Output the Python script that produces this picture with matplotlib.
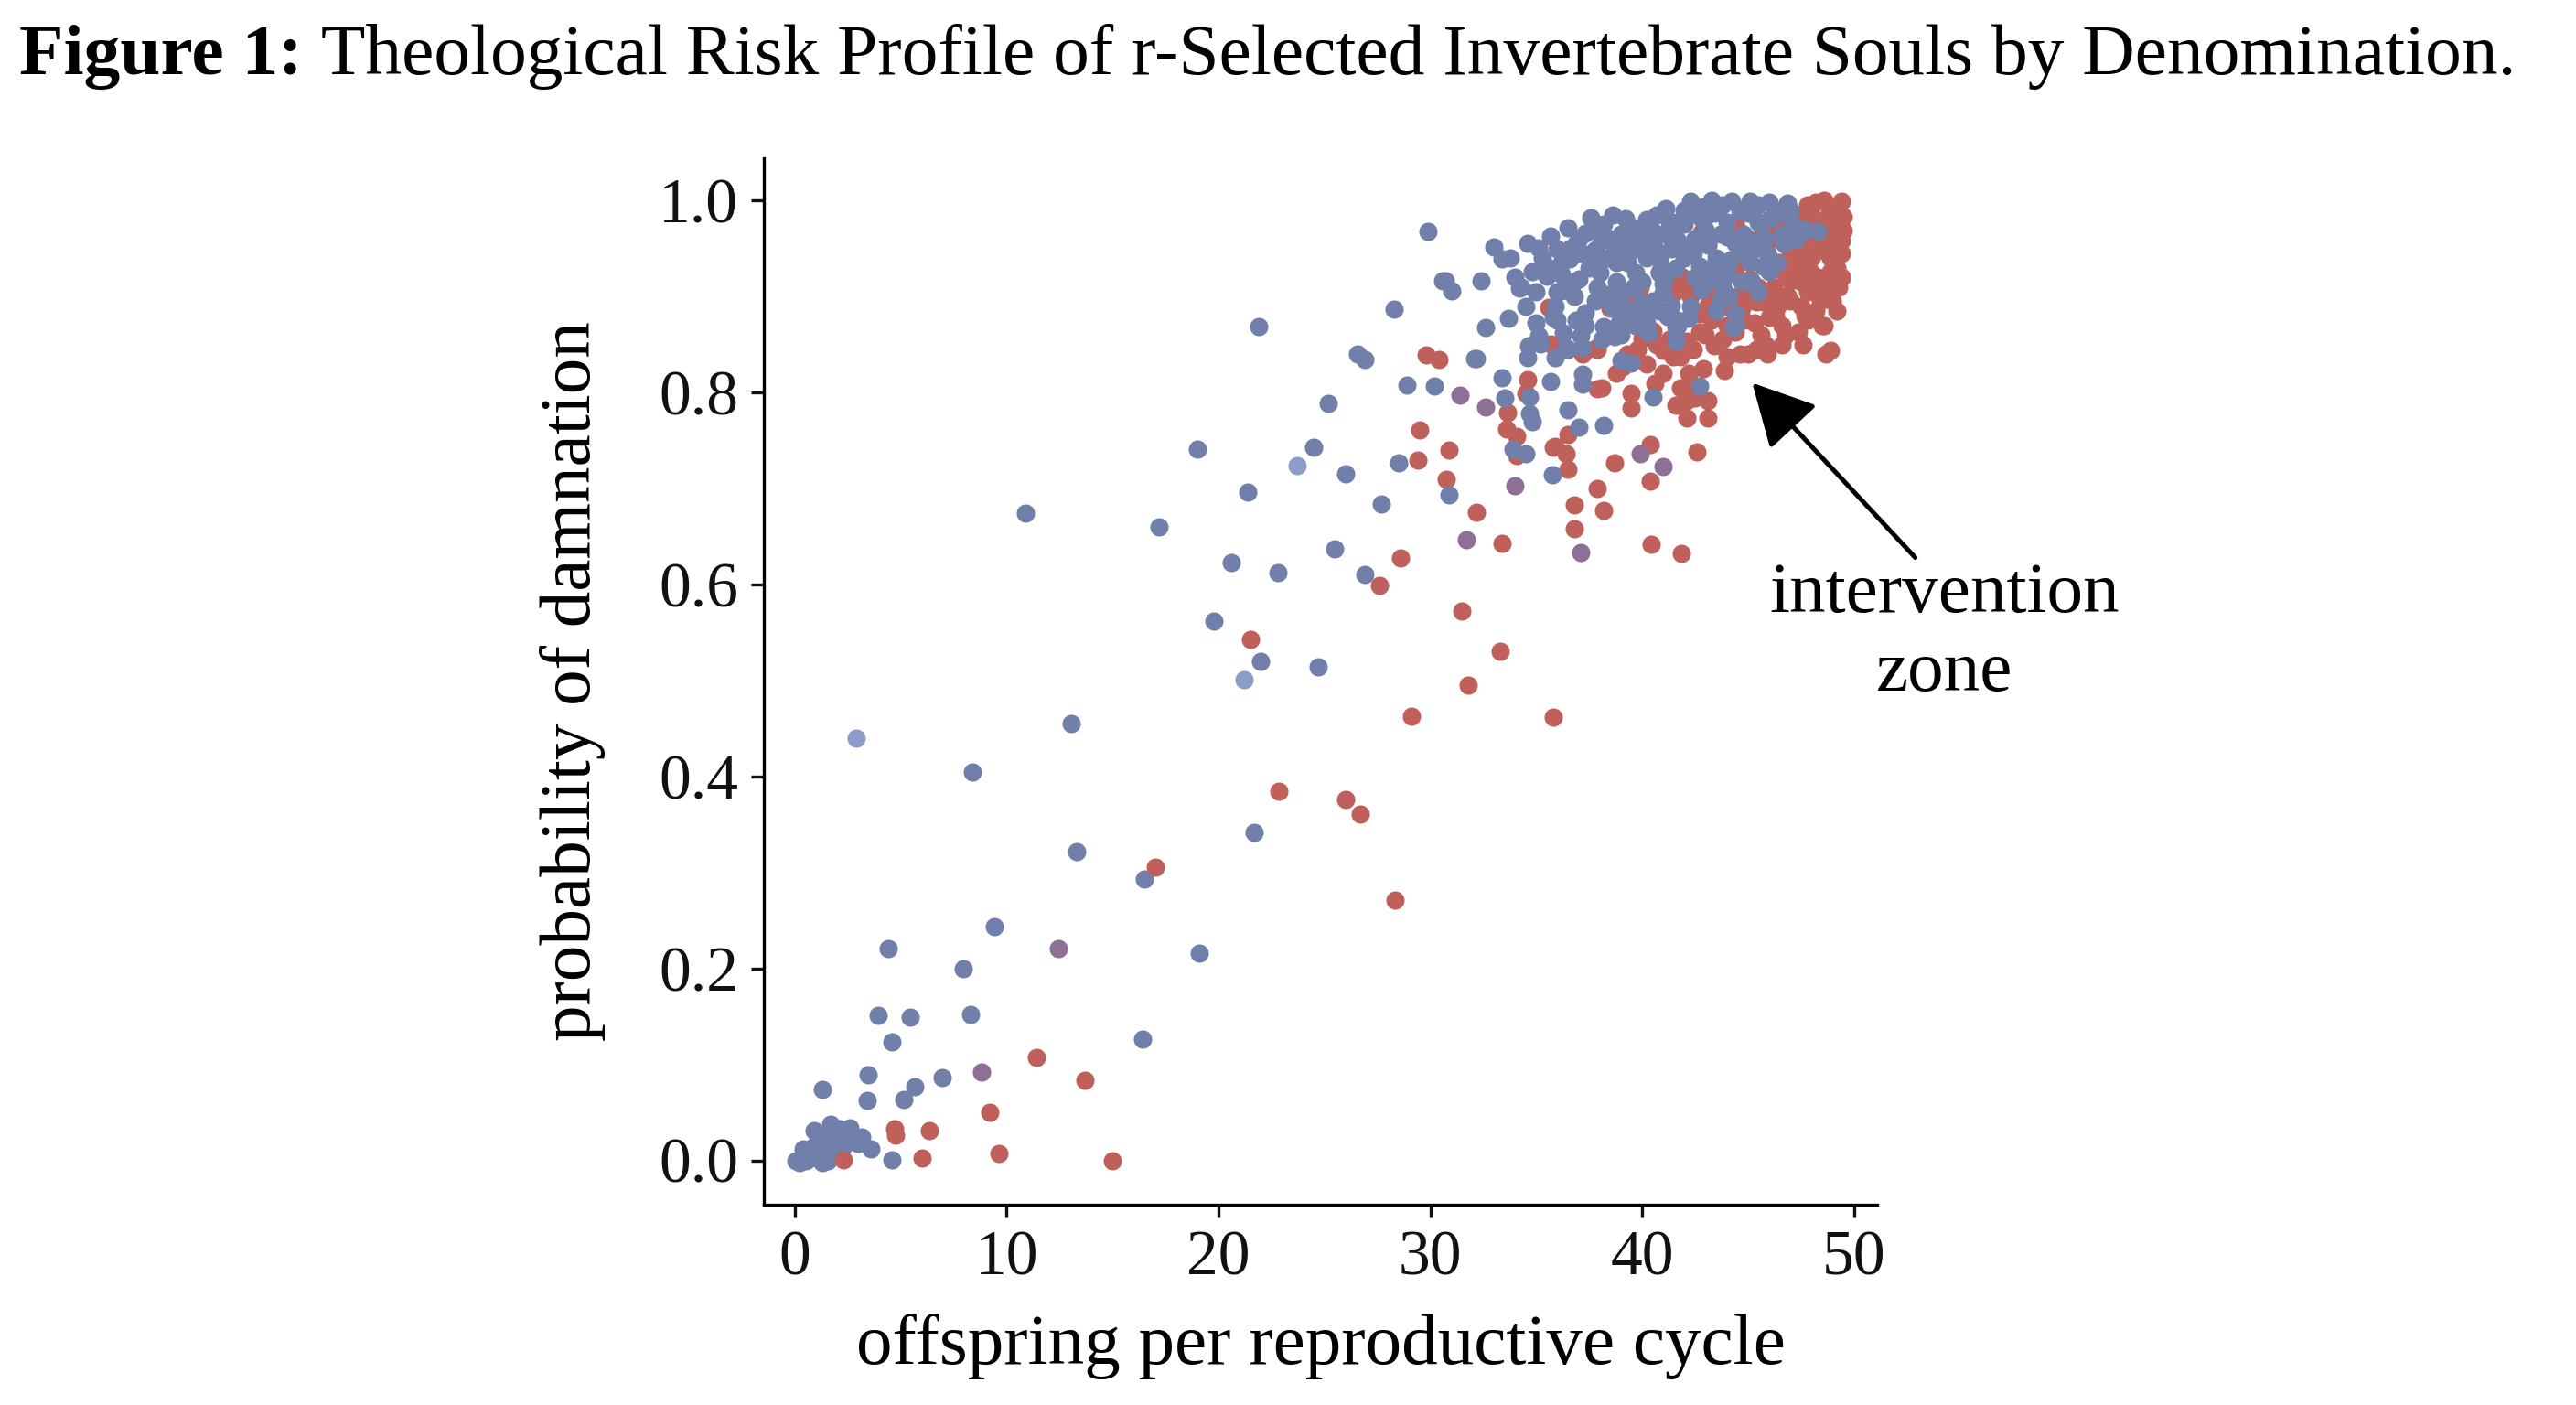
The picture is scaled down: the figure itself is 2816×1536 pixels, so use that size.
import matplotlib
matplotlib.use("Agg")
import matplotlib.pyplot as plt
import numpy as np

FONT = ["Liberation Serif", "DejaVu Serif"]
plt.rcParams["font.family"] = FONT

# ---------------- data ----------------
blue_x = [
    # lower-left cluster
    0.05, 0.2, 0.35, 0.5, 0.6, 0.75, 0.9, 0.9, 1.05, 1.2, 1.3, 1.45, 1.6, 1.7, 1.85, 2.0,
    2.15, 2.3, 2.5, 2.6, 2.8, 3.0, 3.15, 3.6, 1.1, 0.4, 1.55, 2.1,
    # sparse
    1.3, 3.45, 3.4, 5.67, 5.14, 6.95, 3.93, 5.45, 8.3, 4.6, 4.4, 7.95, 9.4, 8.4, 13.05,
    13.3, 16.4, 16.5, 19.1, 21.7, 4.6, 10.9, 17.2, 19.0, 21.4, 24.5, 26.0, 25.2, 20.6,
    22.8, 19.8, 25.5, 27.7, 26.9, 28.5, 30.9, 22.0, 24.7, 21.9, 28.3, 29.9, 30.7, 31.0,
    32.4, 33.0, 33.4, 34.2, 33.7, 32.6, 35.0, 34.65, 33.4, 32.1, 26.55, 26.9, 28.9, 30.2,
    33.5, 34.7, 34.7, 34.8, 33.9, 34.5, 35.75, 35.7, 30.6, 34.3,
    # dense cluster
    37.6, 37.3, 35.7, 35.1, 35.3, 34.8, 35.5, 36.2, 36.6, 37.2, 37.8, 36.2, 36.8, 37.3,
    36.3, 37.1, 36.5, 35.2, 36.6, 36.2, 37.0, 38.2, 38.9, 38.4, 39.9, 40.1, 40.2, 40.3,
    41.4, 41.7, 41.0, 42.8, 43.7, 44.4, 44.3, 45.7, 46.0, 44.9, 45.1, 44.0, 42.7, 42.0,
    41.4, 41.7, 40.6, 40.2, 39.5, 39.7, 40.2, 40.5, 41.7, 43.4, 44.0, 45.0, 45.5, 46.0,
    46.5, 47.1, 47.7, 48.3, 44.0, 44.4, 42.5, 43.1, 38.8, 39.3, 39.7, 38.0, 37.6, 41.0,
    41.2, 41.7, 44.1, 43.8, 39.2, 41.1, 42.3, 43.3, 44.25, 45.1, 46.0, 46.85, 38.5, 38.1,
    38.7, 39.0, 40.0, 41.0, 42.0, 43.0, 42.6, 44.8, 45.8, 46.6, 45.3, 43.5, 42.4, 41.6,
    40.8, 39.6, 38.8, 37.9, 40.5, 42.3, 43.2, 44.7, 45.5, 41.6, 41.6, 42.7, 40.5, 38.2,
    37.0, 36.5, 37.2, 37.2, 39.0, 39.5, 38.1, 39.0, 36.4, 37.2, 35.9, 35.1, 34.6, 37.3,
    38.3, 38.95, 40.3, 41.6, 44.4, 36.0, 35.9, 36.9, 47.5, 32.2,
    38.2, 38.6, 39.6, 40.7, 41.3, 42.0, 42.9, 43.8, 44.6, 45.5, 46.3, 47.0, 43.7, 42.9,
    41.4, 40.4, 39.1, 38.3, 37.5, 37.0, 36.5, 36.0, 35.6, 36.8, 37.8, 38.6, 39.3, 39.0,
    40.0, 40.8, 41.9, 43.3, 44.2, 45.9, 46.7, 47.3, 45.0, 42.5, 43.9, 41.2, 39.4, 38.0,
    35.0, 35.8, 36.0, 34.5, 34.0, 33.8, 34.6, 36.9, 38.7, 39.7, 40.8, 42.2, 43.5, 45.2,
    46.4,
]
blue_y = [
    0.0, -0.002, 0.004, 0.0, 0.01, 0.003, 0.015, 0.031, 0.005, 0.02, -0.002, 0.01, 0.028,
    0.038, 0.018, 0.008, 0.025, 0.015, 0.02, 0.034, 0.022, 0.018, 0.024, 0.012, 0.026,
    0.012, 0.0, 0.033,
    0.074, 0.089, 0.063, 0.077, 0.064, 0.086, 0.151, 0.149, 0.152, 0.124, 0.221, 0.2,
    0.244, 0.405, 0.455, 0.322, 0.126, 0.293, 0.216, 0.342, 0.001, 0.674, 0.66, 0.741,
    0.696, 0.743, 0.715, 0.789, 0.623, 0.612, 0.562, 0.637, 0.684, 0.61, 0.727, 0.693,
    0.52, 0.514, 0.869, 0.887, 0.968, 0.916, 0.906, 0.916, 0.952, 0.939, 0.909, 0.877,
    0.868, 0.872, 0.849, 0.815, 0.835, 0.84, 0.834, 0.808, 0.807, 0.794, 0.795, 0.778,
    0.77, 0.741, 0.736, 0.714, 0.811, 0.916, 0.91,
    0.982, 0.966, 0.963, 0.951, 0.94, 0.926, 0.921, 0.923, 0.939, 0.945, 0.949, 0.906,
    0.9, 0.883, 0.862, 0.859, 0.845, 0.851, 0.95, 0.935, 0.918, 0.869, 0.872, 0.902,
    0.894, 0.882, 0.872, 0.862, 0.891, 0.875, 0.913, 0.907, 0.897, 0.882, 0.868, 0.932,
    0.926, 0.945, 0.935, 0.926, 0.932, 0.94, 0.95, 0.958, 0.95, 0.94, 0.948, 0.954,
    0.98, 0.968, 0.977, 0.987, 0.977, 0.987, 0.977, 0.98, 0.987, 0.975, 0.97, 0.968,
    0.962, 0.955, 0.96, 0.953, 0.935, 0.935, 0.925, 0.925, 0.938, 0.904, 0.879, 0.87,
    0.9, 0.91, 0.981, 0.992, 0.999, 1.0, 0.999, 0.999, 0.998, 0.997, 0.96, 0.959, 0.95,
    0.965, 0.962, 0.965, 0.975, 0.97, 0.985, 0.965, 0.96, 0.965, 0.95, 0.94, 0.945,
    0.93, 0.925, 0.91, 0.915, 0.91, 0.895, 0.89, 0.918, 0.915, 0.905, 0.868, 0.853,
    0.807, 0.795, 0.766, 0.764, 0.782, 0.809, 0.819, 0.833, 0.831, 0.855, 0.86, 0.847,
    0.847, 0.836, 0.859, 0.836, 0.87, 0.898, 0.898, 0.864, 0.86, 0.87, 0.905, 0.89,
    0.955, 0.969, 0.835,
    0.975, 0.985, 0.972, 0.985, 0.978, 0.99, 0.993, 0.995, 0.99, 0.995, 0.99, 0.99,
    0.965, 0.978, 0.968, 0.955, 0.945, 0.94, 0.93, 0.96, 0.972, 0.95, 0.93, 0.915,
    0.895, 0.888, 0.885, 0.905, 0.915, 0.94, 0.95, 0.93, 0.938, 0.945, 0.955, 0.96,
    0.96, 0.92, 0.92, 0.925, 0.96, 0.968, 0.905, 0.878, 0.875, 0.89, 0.92, 0.94, 0.955,
    0.875, 0.858, 0.87, 0.885, 0.877, 0.885, 0.915, 0.935,
]

red_x = [
    # lower-left
    2.3, 4.7, 4.75, 6.35, 6.0, 9.2, 9.64, 11.4, 13.7, 15.0,
    # mid
    17.0, 21.5, 22.85, 26.0, 26.7, 28.35, 29.1, 35.8, 31.8, 33.3, 31.5, 27.6, 28.6, 33.4,
    32.2, 30.75, 30.9, 29.4, 29.5, 29.8, 30.4, 34.6, 33.65, 34.1, 37.9, 36.5, 35.9, 36.8,
    35.7, 35.6, 35.8, 33.6, 34.5, 34.1, 36.4, 36.5, 38.2, 36.8, 40.45, 41.85, 38.7, 40.4,
    40.4, 42.6, 39.5, 37.9,
    # dense cluster
    49.4, 48.6, 49.5, 49.5, 49.4, 48.3, 48.9, 47.4, 48.7, 48.9, 45.85, 44.4, 44.0, 43.4,
    42.1, 41.8, 41.0, 41.45, 40.0, 40.5, 42.7, 43.3, 45.3, 46.0, 46.3, 46.4, 46.85, 47.0,
    45.1, 45.7, 44.7, 42.7, 43.1, 42.3, 42.0, 38.5, 37.3, 37.9, 39.1, 38.1, 39.5, 41.8,
    42.4, 42.1, 43.1, 40.1, 40.1, 39.5, 40.9, 41.4, 41.5, 43.6, 44.4, 44.4, 42.8, 46.0,
    46.3, 45.6, 43.1, 47.8, 48.2, 49.0, 48.0, 48.5, 49.0, 47.5, 48.2, 48.8, 47.0, 47.8,
    49.2, 46.5, 47.2, 48.6, 49.3, 47.5, 48.2, 49.0, 46.2, 48.3, 48.9, 43.9, 45.9, 42.5,
    41.6, 42.1, 43.1, 42.7, 44.55, 40.8, 43.6, 44.05, 45.1, 45.4, 46.2, 46.9, 47.3, 49.1,
    47.9, 37.2, 37.8, 49.3, 49.4, 48.5, 47.7, 46.8, 45.0, 44.2,
    47.0, 47.4, 48.8, 49.3, 48.2, 49.4, 48.6, 47.7, 48.0, 49.4, 48.8, 47.8, 47.0, 48.4,
    49.2, 47.8, 48.6, 46.6, 45.6, 44.8, 44.0, 43.8, 43.0, 42.4, 41.3, 40.7, 39.8, 39.3,
    40.2, 41.0, 42.9, 42.2, 44.6, 45.4, 46.6, 47.6, 46.2, 45.5, 44.5, 43.9, 43.2, 42.7,
    41.9, 39.9, 39.0, 38.8, 40.6, 44.4, 46.7, 47.5, 46.0, 48.0, 45.0, 47.2, 46.5, 45.7,
]
red_y = [
    0.001, 0.033, 0.026, 0.031, 0.003, 0.05, 0.007, 0.107, 0.084, 0.0,
    0.306, 0.543, 0.385, 0.376, 0.361, 0.271, 0.463, 0.462, 0.495, 0.53, 0.572, 0.599,
    0.628, 0.643, 0.675, 0.71, 0.74, 0.73, 0.761, 0.839, 0.834, 0.813, 0.779, 0.754,
    0.70, 0.756, 0.744, 0.683, 0.851, 0.889, 0.743, 0.762, 0.799, 0.734, 0.736, 0.72,
    0.677, 0.658, 0.642, 0.632, 0.727, 0.746, 0.708, 0.738, 0.784, 0.804,
    0.999, 1.0, 0.983, 0.969, 0.945, 0.92, 0.926, 0.863, 0.84, 0.844, 0.85, 0.863, 0.837,
    0.849, 0.853, 0.837, 0.844, 0.837, 0.856, 0.864, 0.863, 0.875, 0.872, 0.878, 0.88,
    0.89, 0.901, 0.916, 0.901, 0.894, 0.888, 0.882, 0.891, 0.9, 0.91, 0.888, 0.844,
    0.845, 0.827, 0.805, 0.799, 0.805, 0.808, 0.791, 0.791, 0.878, 0.894, 0.901, 0.93,
    0.913, 0.904, 0.935, 0.97, 0.977, 0.967, 0.967, 0.96, 0.955, 0.954, 0.995, 0.998,
    0.99, 0.985, 0.975, 0.965, 0.955, 0.95, 0.955, 0.945, 0.935, 0.93, 0.935, 0.925,
    0.905, 0.91, 0.89, 0.885, 0.895, 0.91, 0.911, 0.94, 0.823, 0.84, 0.794, 0.787,
    0.773, 0.773, 0.963, 0.969, 0.925, 0.90, 0.89, 0.918, 0.894, 0.888, 0.952, 0.935,
    0.976, 0.99, 0.84, 0.846, 0.96, 0.92, 0.87, 0.88, 0.86, 0.84, 0.87,
    0.975, 0.985, 0.985, 0.995, 0.965, 0.958, 0.948, 0.945, 0.925, 0.92, 0.91, 0.905,
    0.895, 0.895, 0.885, 0.875, 0.87, 0.87, 0.86, 0.875, 0.87, 0.855, 0.86, 0.845,
    0.855, 0.85, 0.845, 0.84, 0.83, 0.82, 0.825, 0.82, 0.84, 0.845, 0.85, 0.85, 0.9,
    0.91, 0.9, 0.905, 0.905, 0.915, 0.92, 0.91, 0.875, 0.82, 0.81, 0.93, 0.925, 0.915,
    0.94, 0.94, 0.945, 0.965, 0.975, 0.97,
]

purple_x = [8.8, 12.45, 31.4, 32.6, 31.7, 34.0, 37.1, 39.9, 41.0]
purple_y = [0.092, 0.221, 0.797, 0.785, 0.647, 0.703, 0.633, 0.736, 0.723]

lightblue_x = [2.9, 23.7, 21.2]
lightblue_y = [0.44, 0.724, 0.501]

x_ticks = [0, 10, 20, 30, 40, 50]
y_ticks = [0.0, 0.2, 0.4, 0.6, 0.8, 1.0]
y_tick_labels = ["0.0", "0.2", "0.4", "0.6", "0.8", "1.0"]

BLUE = "#7080aa"
RED = "#c0605a"
PURPLE = "#8e7096"
LIGHTBLUE = "#8c9cc8"

# ---------------- figure ----------------
fig = plt.figure(figsize=(14.08, 7.68), dpi=200)
ax = fig.add_axes([0.2965, 0.1426, 0.4322, 0.7448])

bx, by = np.array(blue_x), np.array(blue_y)
rx, ry = np.array(red_x), np.array(red_y)
low = rx < 20

S = 52
ax.scatter(rx[~low], ry[~low], s=S, c=RED, linewidths=0, zorder=2)
ax.scatter(bx, by, s=S, c=BLUE, linewidths=0, zorder=3)
ax.scatter(rx[low], ry[low], s=S, c=RED, linewidths=0, zorder=4)
ax.scatter(purple_x, purple_y, s=S, c=PURPLE, linewidths=0, zorder=4)
ax.scatter(lightblue_x, lightblue_y, s=S, c=LIGHTBLUE, linewidths=0, zorder=4)

ax.set_xlim(-1.47, 51.1)
ax.set_ylim(-0.046, 1.044)
ax.set_xticks(x_ticks)
ax.set_xticklabels([str(t) for t in x_ticks])
ax.set_yticks(y_ticks)
ax.set_yticklabels(y_tick_labels)

for side in ("top", "right"):
    ax.spines[side].set_visible(False)
for side in ("left", "bottom"):
    ax.spines[side].set_linewidth(1.2)
ax.tick_params(axis="both", length=5, width=1.2, labelsize=25, pad=5, colors="#111111")

ax.set_xlabel("offspring per reproductive cycle", fontsize=28.5, labelpad=10)
ax.set_ylabel("probability of damnation", fontsize=28.5, labelpad=21)

# annotation
ax.annotate("", xy=(45.2, 0.81), xytext=(52.9, 0.628),
            arrowprops=dict(arrowstyle="-|>,head_length=0.42,head_width=0.22",
                            mutation_scale=50, lw=1.8, color="black",
                            shrinkA=0, shrinkB=0),
            annotation_clip=False)
ax.text(54.27, 0.571, "intervention", fontsize=28.5, ha="center", va="baseline",
        clip_on=False)
ax.text(54.27, 0.489, "zone", fontsize=28.5, ha="center", va="baseline", clip_on=False)

# title: bold "Figure 1:" followed by regular text
t1 = fig.text(0.0075, 0.9475, "Figure 1:", fontsize=28.6, fontweight="bold",
              va="baseline", ha="left")
renderer = fig.canvas.get_renderer()
bb = t1.get_window_extent(renderer)
x2 = bb.x1 / fig.bbox.width + 0.0072
fig.text(x2, 0.9475, "Theological Risk Profile of r-Selected Invertebrate Souls by Denomination.",
         fontsize=28.6, va="baseline", ha="left")

fig.savefig("out.png", dpi=200, facecolor="white")
